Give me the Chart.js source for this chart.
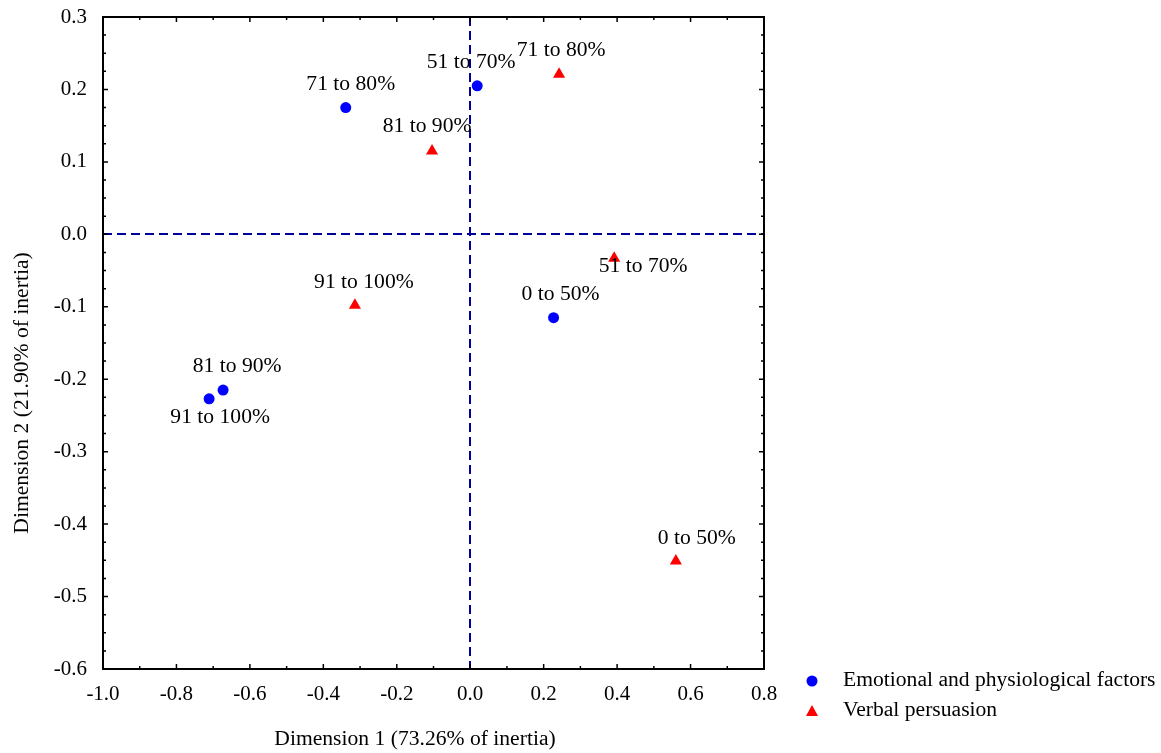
<!DOCTYPE html>
<html>
<head>
<meta charset="utf-8">
<title>Correspondence analysis</title>
<script src="https://cdn.jsdelivr.net/npm/chart.js@4.4.1/dist/chart.umd.min.js"></script>
<style>
    html, body { margin: 0; padding: 0; background: #fff; }
    #wrap { width: 1161px; height: 753px; }
</style>
</head>
<body>
<div id="wrap"><canvas id="caChart" width="1161" height="753"></canvas></div>
<script>
// categories (point labels) and coordinates
var categories = ['0 to 50%', '51 to 70%', '71 to 80%', '81 to 90%', '91 to 100%'];
var emotionalX = [0.227, 0.019, -0.339, -0.673, -0.711];
var emotionalY = [-0.115, 0.205, 0.175, -0.215, -0.227];
var verbalX = [0.560, 0.392, 0.242, -0.104, -0.314];
var verbalY = [-0.451, -0.033, 0.221, 0.115, -0.098];

var seriesNames = ['Emotional and physiological factors', 'Verbal persuasion'];
var xTitle = 'Dimension 1 (73.26% of inertia)';
var yTitle = 'Dimension 2 (21.90% of inertia)';
var xTicks = [-1.0, -0.8, -0.6, -0.4, -0.2, 0.0, 0.2, 0.4, 0.6, 0.8];
var yTicks = [-0.6, -0.5, -0.4, -0.3, -0.2, -0.1, 0.0, 0.1, 0.2, 0.3];

// label offsets in px from the marker (same order as categories)
var emotionalLabelOffset = [[7, -23], [-6, -23], [5, -23], [14, -23], [11, 19]];
var verbalLabelOffset = [[21, -22], [29, 9], [2, -23], [-5, -24], [9, -23]];

var FONT = "'Liberation Serif', 'Times New Roman', serif";
var BLUE = '#0000ff';
var RED = '#ff0000';
var DASH = '#00009c';
var STRETCH = 1.08; // the original text is a little wider than Times

function toPoints(xs, ys) {
    return xs.map(function (x, i) { return { x: x, y: ys[i] }; });
}

// draws text slightly stretched horizontally
function wideText(ctx, text, x, y, align) {
    ctx.save();
    ctx.translate(x, y);
    ctx.scale(STRETCH, 1);
    ctx.textAlign = align;
    ctx.fillText(text, 0, 0);
    ctx.restore();
}

// frame, inward ticks and dashed zero lines
var framePlugin = {
    id: 'frame',
    beforeDatasetsDraw: function (chart) {
        var ctx = chart.ctx, a = chart.chartArea;
        var xs = chart.scales.x, ys = chart.scales.y;
        ctx.save();
        ctx.strokeStyle = DASH;
        ctx.lineWidth = 2;
        ctx.setLineDash([9, 5]);
        var x0 = Math.round(xs.getPixelForValue(0));
        var y0 = Math.round(ys.getPixelForValue(0));
        ctx.beginPath();
        ctx.moveTo(x0, a.top); ctx.lineTo(x0, a.bottom);
        ctx.moveTo(a.left, y0); ctx.lineTo(a.right, y0);
        ctx.stroke();
        ctx.restore();
    },
    afterDraw: function (chart) {
        var ctx = chart.ctx, a = chart.chartArea;
        var xs = chart.scales.x, ys = chart.scales.y;
        ctx.save();
        ctx.strokeStyle = '#000';
        ctx.lineWidth = 1.5;
        ctx.beginPath();
        var i, v, p, len;
        for (i = 0; i <= 18; i++) {
            v = -1.0 + i * 0.1;
            p = xs.getPixelForValue(v);
            len = (i % 2 === 0) ? 5 : 3;
            ctx.moveTo(p, a.bottom); ctx.lineTo(p, a.bottom - len);
            ctx.moveTo(p, a.top); ctx.lineTo(p, a.top + len);
        }
        for (i = 0; i <= 36; i++) {
            v = -0.6 + i * 0.025;
            p = ys.getPixelForValue(v);
            len = (i % 4 === 0) ? 5 : 3;
            ctx.moveTo(a.left, p); ctx.lineTo(a.left + len, p);
            ctx.moveTo(a.right, p); ctx.lineTo(a.right - len, p);
        }
        ctx.stroke();
        ctx.lineWidth = 2;
        ctx.strokeRect(a.left, a.top, a.right - a.left, a.bottom - a.top);

        // axis titles
        ctx.fillStyle = '#000';
        ctx.font = '20px ' + FONT;
        ctx.textBaseline = 'middle';
        wideText(ctx, xTitle, 415, 740, 'center');
        ctx.translate(23, 393);
        ctx.rotate(-Math.PI / 2);
        wideText(ctx, yTitle, 0, 0, 'center');
        ctx.restore();

        // legend
        ctx.save();
        ctx.fillStyle = BLUE;
        ctx.beginPath();
        ctx.arc(812, 681, 5.5, 0, Math.PI * 2);
        ctx.fill();
        ctx.fillStyle = RED;
        ctx.beginPath();
        ctx.moveTo(812, 705); ctx.lineTo(818, 716); ctx.lineTo(806, 716);
        ctx.closePath();
        ctx.fill();
        ctx.fillStyle = '#000';
        ctx.font = '20px ' + FONT;
        ctx.textBaseline = 'middle';
        wideText(ctx, seriesNames[0], 843, 681, 'left');
        wideText(ctx, seriesNames[1], 843, 711, 'left');
        ctx.restore();
    }
};

// category labels next to each marker
var labelPlugin = {
    id: 'pointLabels',
    afterDatasetsDraw: function (chart) {
        var ctx = chart.ctx;
        var offsets = [emotionalLabelOffset, verbalLabelOffset];
        ctx.save();
        ctx.fillStyle = '#000';
        ctx.font = '20px ' + FONT;
        ctx.textBaseline = 'middle';
        chart.data.datasets.forEach(function (ds, d) {
            chart.getDatasetMeta(d).data.forEach(function (pt, i) {
                wideText(ctx, categories[i], pt.x + offsets[d][i][0], pt.y + offsets[d][i][1], 'center');
            });
        });
        ctx.restore();
    }
};

var ctx = document.getElementById('caChart').getContext('2d');
var caChart = new Chart(ctx, {
    type: 'scatter',
    data: {
        datasets: [{
            label: seriesNames[0],
            data: toPoints(emotionalX, emotionalY),
            pointStyle: 'circle',
            pointRadius: 5.5,
            backgroundColor: BLUE,
            borderColor: BLUE,
            borderWidth: 0
        }, {
            label: seriesNames[1],
            data: toPoints(verbalX, verbalY),
            pointStyle: 'triangle',
            pointRadius: 7,
            backgroundColor: RED,
            borderColor: RED,
            borderWidth: 0
        }]
    },
    options: {
        responsive: false,
        animation: false,
        devicePixelRatio: 1,
        layout: { padding: { left: 0, top: 17, right: 397, bottom: 0 } },
        plugins: {
            legend: { display: false },
            tooltip: { enabled: false }
        },
        scales: {
            x: {
                type: 'linear',
                min: -1.0,
                max: 0.8,
                afterBuildTicks: function (scale) {
                    scale.ticks = xTicks.map(function (v) { return { value: v }; });
                },
                afterFit: function (scale) {
                    scale.height = 84;
                    scale.paddingLeft = 0;
                    scale.paddingRight = 0;
                },
                grid: { display: false, drawTicks: false },
                border: { display: false },
                ticks: {
                    autoSkip: false,
                    maxRotation: 0,
                    padding: 13,
                    color: '#000',
                    font: { family: FONT, size: 21 },
                    callback: function (v) { return v.toFixed(1); }
                }
            },
            y: {
                type: 'linear',
                min: -0.6,
                max: 0.3,
                afterBuildTicks: function (scale) {
                    scale.ticks = yTicks.map(function (v) { return { value: v }; });
                },
                afterFit: function (scale) {
                    scale.width = 103;
                    scale.paddingTop = 0;
                    scale.paddingBottom = 0;
                },
                grid: { display: false, drawTicks: false },
                border: { display: false },
                ticks: {
                    autoSkip: false,
                    padding: 16,
                    color: '#000',
                    font: { family: FONT, size: 21 },
                    callback: function (v) { return v.toFixed(1); }
                }
            }
        }
    },
    plugins: [framePlugin, labelPlugin]
});
</script>
</body>
</html>
